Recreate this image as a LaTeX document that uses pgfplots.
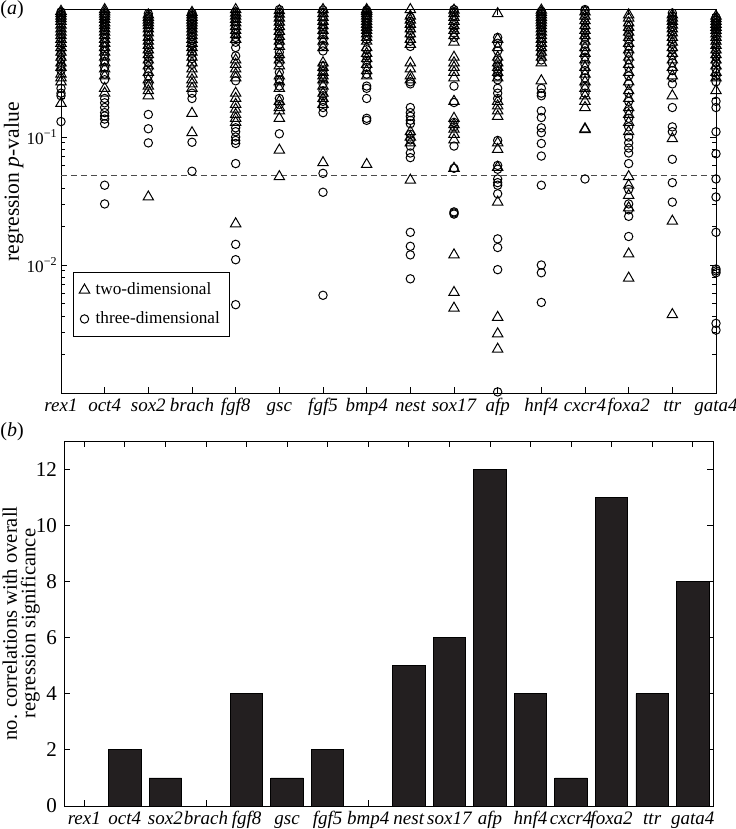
\documentclass[border=0pt]{standalone}
\usepackage{fontspec}
\setmainfont{Liberation Serif}
\usepackage{pgfplots}
\pgfplotsset{compat=1.18}
\definecolor{barblack}{HTML}{231F20}
\pgfplotsset{
  common/.style={
    scale only axis,
    axis line style={line width=0.5pt},
    tick style={black, line width=0.4pt},
    major tick length=3pt,
    minor tick length=1.8pt,
    tick align=inside,
    tick label style={font=\fontsize{9.5}{11}\selectfont},
    xticklabel style={font=\fontsize{9.5}{11}\selectfont\itshape, text height=1.6ex, text depth=0.4ex, inner ysep=1.5pt},
    xtick={1,...,16},
    xticklabels={rex1,oct4,sox2,brach,fgf8,gsc,fgf5,bmp4,nest,sox17,afp,hnf4,cxcr4,foxa2,ttr,gata4},
  }
}
\begin{document}
\begin{tikzpicture}
\useasboundingbox (0,0) rectangle (367.5pt,-414.5pt);
\node[anchor=west, inner sep=0pt, font=\fontsize{10}{12}\selectfont] at (0pt,-5pt) {(\textit{a})};
\node[anchor=west, inner sep=0pt, font=\fontsize{10}{12}\selectfont] at (0pt,-216pt) {(\textit{b})};
\begin{axis}[common,
  at={(30.5pt,-4.5pt)}, anchor=north west,
  width=327.5pt, height=192pt,
  ymode=log, xmin=1, xmax=16, ymin=0.001, ymax=1,
  clip=false,
  ytick={0.01,0.1},
  yticklabels={10\textsuperscript{\textminus2},10\textsuperscript{\textminus1}},
  yticklabel style={font=\fontsize{8.6}{10}\selectfont, inner xsep=1.5pt},
  minor ytick={0.002,0.003,0.004,0.005,0.006,0.007,0.008,0.009,0.02,0.03,0.04,0.05,0.06,0.07,0.08,0.09,0.2,0.3,0.4,0.5,0.6,0.7,0.8,0.9},
  ylabel={regression \textit{p}-value},
  ylabel style={font=\fontsize{10.8}{12}\selectfont, at={(axis description cs:-0.072,0.55)}, anchor=center},
  legend style={at={(0.018,0.146)}, anchor=south west, draw=black, line width=0.5pt,
    font=\fontsize{8.6}{10}\selectfont, row sep=3pt, column sep=1pt, inner xsep=3pt, inner ysep=3pt,
    cells={anchor=west}},
  legend cell align=left,
]
\addplot[only marks, mark=triangle, mark size=3pt, mark options={line width=0.5pt, black}] coordinates {
(1,0.96)(1,0.92)(1,0.88)(1,0.84)(1,0.80)(1,0.75)(1,0.70)(1,0.66)(1,0.62)(1,0.58)(1,0.54)(1,0.50)(1,0.46)(1,0.42)(1,0.38)(1,0.35)(1,0.31)(1,0.29)(1,0.27)(1,0.183)
(2,0.99)(2,0.95)(2,0.91)(2,0.87)(2,0.83)(2,0.78)(2,0.74)(2,0.70)(2,0.66)(2,0.62)(2,0.58)(2,0.54)(2,0.50)(2,0.46)(2,0.42)(2,0.38)(2,0.34)(2,0.30)(2,0.24)(2,0.22)
(3,0.90)(3,0.86)(3,0.82)(3,0.78)(3,0.74)(3,0.70)(3,0.65)(3,0.60)(3,0.56)(3,0.52)(3,0.48)(3,0.44)(3,0.40)(3,0.36)(3,0.32)(3,0.28)(3,0.25)(3,0.23)(3,0.21)(3,0.034)
(4,0.94)(4,0.90)(4,0.86)(4,0.82)(4,0.78)(4,0.74)(4,0.70)(4,0.66)(4,0.62)(4,0.58)(4,0.54)(4,0.50)(4,0.46)(4,0.42)(4,0.38)(4,0.34)(4,0.31)(4,0.28)(4,0.26)(4,0.24)(4,0.153)(4,0.108)
(5,0.99)(5,0.93)(5,0.88)(5,0.83)(5,0.78)(5,0.73)(5,0.68)(5,0.63)(5,0.58)(5,0.40)(5,0.37)(5,0.34)(5,0.31)(5,0.29)(5,0.22)(5,0.20)(5,0.18)(5,0.165)(5,0.15)(5,0.14)(5,0.13)(5,0.021)
(6,0.97)(6,0.91)(6,0.85)(6,0.79)(6,0.73)(6,0.67)(6,0.61)(6,0.56)(6,0.51)(6,0.44)(6,0.40)(6,0.36)(6,0.30)(6,0.27)(6,0.24)(6,0.19)(6,0.17)(6,0.16)(6,0.14)(6,0.079)(6,0.049)
(7,0.99)(7,0.92)(7,0.86)(7,0.80)(7,0.74)(7,0.68)(7,0.62)(7,0.56)(7,0.50)(7,0.38)(7,0.35)(7,0.32)(7,0.30)(7,0.28)(7,0.25)(7,0.22)(7,0.20)(7,0.18)(7,0.063)
(8,0.99)(8,0.96)(8,0.92)(8,0.88)(8,0.84)(8,0.80)(8,0.76)(8,0.72)(8,0.68)(8,0.64)(8,0.60)(8,0.56)(8,0.50)(8,0.45)(8,0.41)(8,0.37)(8,0.33)(8,0.30)(8,0.061)
(9,0.99)(9,0.88)(9,0.82)(9,0.76)(9,0.70)(9,0.64)(9,0.58)(9,0.53)(9,0.38)(9,0.34)(9,0.30)(9,0.28)(9,0.11)(9,0.10)(9,0.09)(9,0.046)
(10,0.98)(10,0.92)(10,0.86)(10,0.80)(10,0.74)(10,0.68)(10,0.62)(10,0.55)(10,0.42)(10,0.38)(10,0.35)(10,0.32)(10,0.29)(10,0.19)(10,0.14)(10,0.125)(10,0.115)(10,0.105)(10,0.095)(10,0.057)(10,0.012)(10,0.0061)(10,0.0046)
(11,0.92)(11,0.58)(11,0.50)(11,0.42)(11,0.38)(11,0.35)(11,0.32)(11,0.29)(11,0.19)(11,0.175)(11,0.16)(11,0.145)(11,0.09)(11,0.08)(11,0.058)(11,0.031)(11,0.0039)(11,0.0029)(11,0.0022)
(12,0.98)(12,0.94)(12,0.90)(12,0.86)(12,0.82)(12,0.78)(12,0.74)(12,0.70)(12,0.66)(12,0.62)(12,0.58)(12,0.54)(12,0.50)(12,0.46)(12,0.42)(12,0.38)(12,0.275)
(13,0.95)(13,0.88)(13,0.81)(13,0.74)(13,0.68)(13,0.62)(13,0.56)(13,0.50)(13,0.45)(13,0.40)(13,0.35)(13,0.31)(13,0.27)(13,0.24)(13,0.21)(13,0.19)(13,0.17)(13,0.116)(13,0.114)
(14,0.90)(14,0.85)(14,0.78)(14,0.72)(14,0.66)(14,0.60)(14,0.54)(14,0.48)(14,0.42)(14,0.37)(14,0.32)(14,0.27)(14,0.23)(14,0.20)(14,0.17)(14,0.15)(14,0.13)(14,0.11)(14,0.049)(14,0.042)(14,0.035)(14,0.028)(14,0.0122)(14,0.0079)
(15,0.90)(15,0.85)(15,0.80)(15,0.75)(15,0.70)(15,0.65)(15,0.60)(15,0.55)(15,0.50)(15,0.45)(15,0.40)(15,0.35)(15,0.30)(15,0.21)(15,0.097)(15,0.022)(15,0.0041)
(16,0.88)(16,0.84)(16,0.80)(16,0.76)(16,0.72)(16,0.68)(16,0.64)(16,0.60)(16,0.56)(16,0.52)(16,0.48)(16,0.44)(16,0.40)(16,0.36)(16,0.32)(16,0.29)(16,0.23)
};
\addlegendentry{two-dimensional}
\addplot[only marks, mark=o, mark size=2.1pt, mark options={line width=0.5pt, black}] coordinates {
(1,0.95)(1,0.90)(1,0.86)(1,0.82)(1,0.77)(1,0.72)(1,0.68)(1,0.64)(1,0.60)(1,0.56)(1,0.52)(1,0.48)(1,0.44)(1,0.40)(1,0.36)(1,0.33)(1,0.24)(1,0.22)(1,0.21)(1,0.132)
(2,0.93)(2,0.89)(2,0.85)(2,0.80)(2,0.76)(2,0.72)(2,0.68)(2,0.64)(2,0.60)(2,0.55)(2,0.51)(2,0.47)(2,0.43)(2,0.39)(2,0.35)(2,0.31)(2,0.28)(2,0.20)(2,0.185)(2,0.17)(2,0.155)(2,0.146)(2,0.138)(2,0.127)(2,0.042)(2,0.030)
(3,0.92)(3,0.88)(3,0.84)(3,0.80)(3,0.76)(3,0.71)(3,0.67)(3,0.63)(3,0.58)(3,0.54)(3,0.50)(3,0.46)(3,0.42)(3,0.38)(3,0.34)(3,0.30)(3,0.26)(3,0.15)(3,0.116)(3,0.09)
(4,0.93)(4,0.89)(4,0.85)(4,0.81)(4,0.77)(4,0.73)(4,0.69)(4,0.65)(4,0.61)(4,0.57)(4,0.53)(4,0.49)(4,0.45)(4,0.41)(4,0.37)(4,0.22)(4,0.20)(4,0.091)(4,0.054)
(5,0.95)(5,0.90)(5,0.85)(5,0.80)(5,0.75)(5,0.70)(5,0.65)(5,0.60)(5,0.55)(5,0.50)(5,0.43)(5,0.275)(5,0.118)(5,0.11)(5,0.10)(5,0.094)(5,0.089)(5,0.062)(5,0.0145)(5,0.011)(5,0.0049)
(6,0.99)(6,0.94)(6,0.88)(6,0.82)(6,0.76)(6,0.70)(6,0.64)(6,0.58)(6,0.53)(6,0.46)(6,0.42)(6,0.38)(6,0.32)(6,0.28)(6,0.25)(6,0.20)(6,0.18)(6,0.106)
(7,0.98)(7,0.94)(7,0.88)(7,0.82)(7,0.76)(7,0.70)(7,0.64)(7,0.58)(7,0.52)(7,0.47)(7,0.36)(7,0.33)(7,0.31)(7,0.29)(7,0.26)(7,0.23)(7,0.21)(7,0.19)(7,0.17)(7,0.155)(7,0.052)(7,0.037)(7,0.0058)
(8,0.98)(8,0.94)(8,0.90)(8,0.86)(8,0.82)(8,0.78)(8,0.74)(8,0.70)(8,0.66)(8,0.62)(8,0.58)(8,0.48)(8,0.43)(8,0.39)(8,0.35)(8,0.31)(8,0.25)(8,0.24)(8,0.20)(8,0.14)(8,0.135)
(9,0.86)(9,0.80)(9,0.74)(9,0.68)(9,0.62)(9,0.56)(9,0.51)(9,0.27)(9,0.26)(9,0.17)(9,0.155)(9,0.145)(9,0.135)(9,0.127)(9,0.105)(9,0.095)(9,0.085)(9,0.075)(9,0.069)(9,0.018)(9,0.014)(9,0.012)(9,0.0078)
(10,0.99)(10,0.95)(10,0.89)(10,0.83)(10,0.77)(10,0.71)(10,0.65)(10,0.60)(10,0.25)(10,0.186)(10,0.13)(10,0.12)(10,0.085)(10,0.057)(10,0.026)(10,0.0255)(10,0.025)
(11,0.60)(11,0.54)(11,0.47)(11,0.40)(11,0.36)(11,0.33)(11,0.30)(11,0.28)(11,0.24)(11,0.22)(11,0.20)(11,0.094)(11,0.06)(11,0.056)(11,0.047)(11,0.044)(11,0.042)(11,0.036)(11,0.016)(11,0.0137)(11,0.0092)(11,0.00102)
(12,0.96)(12,0.92)(12,0.88)(12,0.84)(12,0.80)(12,0.76)(12,0.72)(12,0.68)(12,0.64)(12,0.60)(12,0.56)(12,0.52)(12,0.48)(12,0.44)(12,0.40)(12,0.24)(12,0.22)(12,0.21)(12,0.16)(12,0.142)(12,0.118)(12,0.108)(12,0.089)(12,0.071)(12,0.042)(12,0.01)(12,0.0087)(12,0.0051)
(13,0.99)(13,0.97)(13,0.92)(13,0.85)(13,0.78)(13,0.71)(13,0.65)(13,0.59)(13,0.53)(13,0.47)(13,0.42)(13,0.37)(13,0.33)(13,0.29)(13,0.25)(13,0.22)(13,0.047)
(14,0.75)(14,0.69)(14,0.63)(14,0.57)(14,0.51)(14,0.45)(14,0.40)(14,0.35)(14,0.30)(14,0.26)(14,0.22)(14,0.19)(14,0.16)(14,0.14)(14,0.12)(14,0.10)(14,0.09)(14,0.082)(14,0.075)(14,0.062)(14,0.039)(14,0.030)(14,0.027)(14,0.024)(14,0.0167)
(15,0.93)(15,0.88)(15,0.83)(15,0.78)(15,0.73)(15,0.68)(15,0.63)(15,0.58)(15,0.53)(15,0.48)(15,0.43)(15,0.38)(15,0.33)(15,0.29)(15,0.26)(15,0.17)(15,0.12)(15,0.11)(15,0.067)(15,0.044)(15,0.031)
(16,0.86)(16,0.82)(16,0.78)(16,0.74)(16,0.70)(16,0.66)(16,0.62)(16,0.58)(16,0.54)(16,0.50)(16,0.46)(16,0.42)(16,0.38)(16,0.34)(16,0.30)(16,0.27)(16,0.19)(16,0.17)(16,0.11)(16,0.074)(16,0.047)(16,0.034)(16,0.018)(16,0.0093)(16,0.009)(16,0.0087)(16,0.0035)(16,0.0031)
};
\addlegendentry{three-dimensional}
\addplot[forget plot, densely dashed, gray!60!black, line width=0.4pt] coordinates {(1,0.05)(16,0.05)};
\end{axis}
\begin{axis}[common,
  at={(32pt,-220.5pt)}, anchor=north west,
  width=324.5pt, height=182.5pt,
  xmin=0.5, xmax=16.5, ymin=0, ymax=13,
  ytick={0,2,4,6,8,10,12},
  yticklabel style={font=\fontsize{10.5}{12}\selectfont},
  /pgf/number format/assume math mode=true,
  ylabel={no. correlations with overall\\regression significance},
  ylabel style={font=\fontsize{10.3}{9.2}\selectfont, align=center, at={(axis description cs:-0.066,0.5)}, anchor=center},
]
\addplot[ybar, bar width=0.8, fill=barblack, draw=black, line width=0.4pt] coordinates {
(1,0)(2,2)(3,1)(4,0)(5,4)(6,1)(7,2)(8,0)(9,5)(10,6)(11,12)(12,4)(13,1)(14,11)(15,4)(16,8)};
\end{axis}
\end{tikzpicture}
\end{document}
